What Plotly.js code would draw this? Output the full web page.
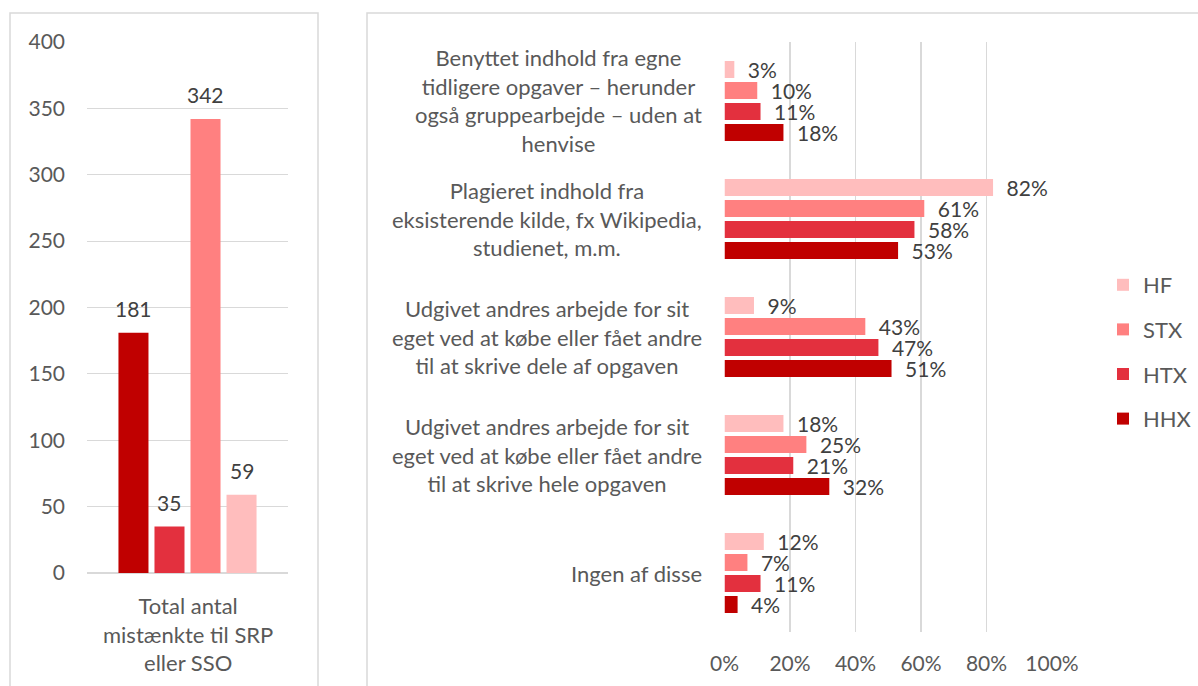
<!DOCTYPE html>
<html>
<head>
<meta charset="utf-8">
<script src="https://cdn.plot.ly/plotly-3.0.1.min.js"></script>
<style>html,body{margin:0;padding:0;background:#fff;}#chart{width:1198px;height:686px;}</style>
</head>
<body>
<div id="chart"></div>
<script>
// ---------- DATA ----------
const seriesNames = ['HF', 'STX', 'HTX', 'HHX'];

// Left chart: total number of suspects per school type
const leftCategoryLabel = 'Total antal<br>mistænkte til SRP<br>eller SSO';
const leftSeries = ['HHX', 'HTX', 'STX', 'HF'];
const leftValues = [181, 35, 342, 59];

// Right chart: type of cheating (share), per school type
const rightCategories = [
  'Benyttet indhold fra egne<br>tidligere opgaver – herunder<br>også gruppearbejde – uden at<br>henvise',
  'Plagieret indhold fra<br>eksisterende kilde, fx Wikipedia,<br>studienet, m.m.',
  'Udgivet andres arbejde for sit<br>eget ved at købe eller fået andre<br>til at skrive dele af opgaven',
  'Udgivet andres arbejde for sit<br>eget ved at købe eller fået andre<br>til at skrive hele opgaven',
  'Ingen af disse'
];
const valuesHF  = [0.03, 0.82, 0.09, 0.18, 0.12];
const valuesSTX = [0.10, 0.61, 0.43, 0.25, 0.07];
const valuesHTX = [0.11, 0.58, 0.47, 0.21, 0.11];
const valuesHHX = [0.18, 0.53, 0.51, 0.32, 0.04];
const rightValues = [valuesHF, valuesSTX, valuesHTX, valuesHHX];

// ---------- STYLE ----------
const colorOf = {HF: '#FFBDBD', STX: '#FF8080', HTX: '#E3303E', HHX: '#C00000'};
const FONT = 'Lato, "Open Sans", sans-serif';
const axisText = '#595959';
const labelText = '#404040';
const grid = '#D9D9D9';
const W = 1198, H = 686;
const px = v => v / W, py = v => 1 - v / H;

const traces = [];

// left bars
traces.push({
  type: 'bar', x: leftSeries, y: leftValues, width: 0.8333,
  marker: {color: leftSeries.map(s => colorOf[s])},
  xaxis: 'x', yaxis: 'y', showlegend: false, hoverinfo: 'x+y'
});

// right bars
seriesNames.forEach((name, i) => {
  traces.push({
    type: 'bar', orientation: 'h', name: name, legendgroup: name,
    x: rightValues[i], y: rightCategories,
    marker: {color: colorOf[name]},
    xaxis: 'x2', yaxis: 'y2',
    texttemplate: '\u2002%{x:.0%}', textposition: 'outside',
    constraintext: 'none', cliponaxis: false,
    textfont: {family: FONT, size: 21, color: labelText},
    hoverinfo: 'name+x'
  });
});

const annotations = [];
// left value labels
leftSeries.forEach((s, i) => {
  annotations.push({
    xref: 'x', yref: 'y', x: s, y: leftValues[i], text: String(leftValues[i]),
    showarrow: false, yanchor: 'middle', yshift: 24,
    font: {family: FONT, size: 21, color: labelText}
  });
});
// left category label
annotations.push({
  xref: 'x domain', yref: 'y domain', x: 0.5, y: 0, yanchor: 'top', yshift: -17,
  text: leftCategoryLabel, showarrow: false, align: 'center',
  font: {family: FONT, size: 22, color: axisText}
});
// right category labels
rightCategories.forEach(c => {
  annotations.push({
    xref: 'x2 domain', yref: 'y2', x: 0, y: c, xanchor: 'right', yanchor: 'middle',
    xshift: -21, text: c, showarrow: false, align: 'center',
    font: {family: FONT, size: 22, color: axisText}
  });
});

const shapes = [
  {type: 'rect', xref: 'paper', yref: 'paper', x0: px(10), x1: px(318), y0: py(13), y1: py(700),
   line: {color: '#D9D9D9', width: 1.5}, fillcolor: 'rgba(0,0,0,0)', layer: 'below'},
  {type: 'rect', xref: 'paper', yref: 'paper', x0: px(367), x1: px(1210), y0: py(13), y1: py(700),
   line: {color: '#D9D9D9', width: 1.5}, fillcolor: 'rgba(0,0,0,0)', layer: 'below'}
];

const layout = {
  width: W, height: H,
  margin: {l: 0, r: 0, t: 0, b: 0},
  paper_bgcolor: '#fff', plot_bgcolor: 'rgba(0,0,0,0)',
  font: {family: FONT, size: 22, color: axisText},
  showlegend: true,
  barmode: 'group',
  bargap: 0.288,
  bargroupgap: 0.19,
  xaxis: {
    domain: [px(87), px(288)], type: 'category', range: [-1.29, 4.29],
    showticklabels: false, showgrid: false, zeroline: false, showline: false, ticks: '',
    anchor: 'y', fixedrange: true
  },
  yaxis: {
    domain: [py(573), py(42)], range: [0, 400], dtick: 50,
    showgrid: true, gridcolor: grid, gridwidth: 1,
    zeroline: true, zerolinecolor: grid, zerolinewidth: 1.5,
    showline: false, ticks: '', ticklabelstandoff: 21,
    tickfont: {family: FONT, size: 21, color: axisText}, anchor: 'x'
  },
  xaxis2: {
    domain: [px(724.5), px(1052)], range: [0, 1], dtick: 0.2, tickformat: '.0%',
    showgrid: true, gridcolor: grid, gridwidth: 1.5,
    zeroline: false, showline: false, ticks: '', ticklabelstandoff: 17,
    tickfont: {family: FONT, size: 21, color: axisText}, anchor: 'y2'
  },
  yaxis2: {
    domain: [py(632), py(42)], type: 'category', autorange: 'reversed',
    showticklabels: false, showgrid: false, zeroline: false, showline: false, ticks: '',
    anchor: 'x2'
  },
  legend: {
    x: px(1103), xanchor: 'left', y: py(264), yanchor: 'top',
    font: {family: FONT, size: 22, color: axisText},
    tracegroupgap: 13, traceorder: 'grouped', bgcolor: 'rgba(0,0,0,0)'
  },
  annotations: annotations,
  shapes: shapes
};

Plotly.newPlot('chart', traces, layout, {staticPlot: true});
</script>
</body>
</html>
